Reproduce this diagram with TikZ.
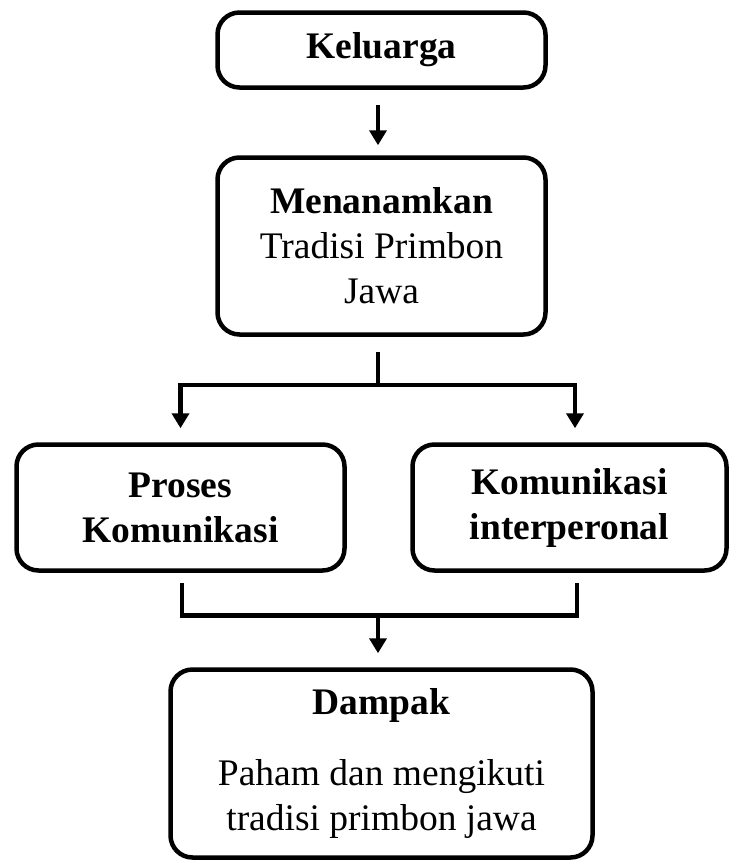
\documentclass[tikz,border=0pt]{standalone}
\usepackage{fontspec}
\setmainfont{Liberation Serif}
\usetikzlibrary{arrows.meta,calc}
\tikzset{
  box/.style={draw, line width=4.5pt, rounded corners=22pt, align=center, inner sep=0pt,
    font=\fontsize{37.5}{45}\selectfont},
  conn/.style={line width=4.5pt},
  arr/.style={line width=4.5pt, -{Triangle[width=17pt,length=15pt]}}
}
\begin{document}
\begin{tikzpicture}[x=1pt,y=-1pt]
\useasboundingbox (0,0) rectangle (731,868);
\node[box, minimum width=328pt, minimum height=75pt] (b1) at (381.5,50) {\textbf{Keluarga}};
\node[box, minimum width=328pt, minimum height=177pt] (b2) at (381.5,246) {\textbf{Menanamkan}\\Tradisi Primbon\\Jawa};
\node[box, minimum width=328pt, minimum height=126pt] (b3) at (180.5,507.5) {\textbf{Proses}\\\textbf{Komunikasi}};
\node[box, minimum width=314pt, minimum height=126pt] (b4) at (569.5,507.5) {\textbf{Komunikasi}\\\textbf{interperonal}};
\node[box, minimum width=422pt, minimum height=188pt] (b5) at (381.5,763.5) {\textbf{Dampak}\\[26pt]Paham dan mengikuti\\tradisi primbon jawa};
% Keluarga -> Menanamkan
\draw[arr] ([xshift=-3.5pt,yshift=-15pt]b1.south) -- ([xshift=-3.5pt,yshift=10pt]b2.north);
% branch
\coordinate (j1) at ([xshift=-3.5pt,yshift=-48pt]b2.south);
\draw[conn] ([xshift=-3.5pt,yshift=-15pt]b2.south) -- (j1);
\draw[arr, rounded corners=0pt] (j1) -| ([yshift=14pt]b3.north);
\draw[arr, rounded corners=0pt] (j1) -| ([xshift=5.5pt,yshift=14pt]b4.north);
% merge
\coordinate (j2) at ([xshift=-3.5pt,yshift=52pt]b5.north);
\draw[conn] ([xshift=1.5pt,yshift=-10pt]b3.south) |- (j2) -| ([xshift=7.5pt,yshift=-10pt]b4.south);
\draw[arr] (j2) -- ([xshift=-3.5pt,yshift=14pt]b5.north);
\end{tikzpicture}
\end{document}
